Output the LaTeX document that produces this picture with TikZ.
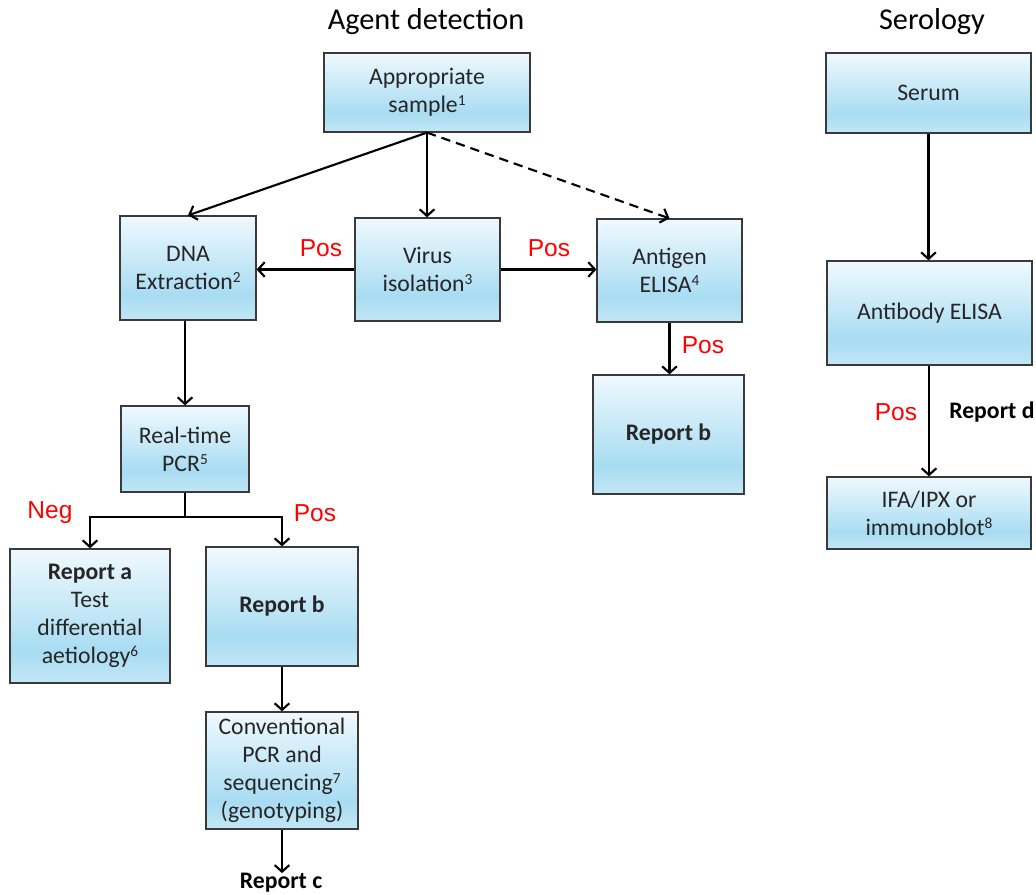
\documentclass[tikz,border=0pt]{standalone}
\usepackage{fontspec}
\setmainfont{Carlito}
\newfontfamily\arialf{Liberation Sans}
\usetikzlibrary{arrows.meta,calc}
\definecolor{gtop}{HTML}{F0F9FE}
\definecolor{gmid}{HTML}{A8DCF2}
\definecolor{gbot}{HTML}{C2E7F6}
\definecolor{boxline}{HTML}{3A3A3A}
\definecolor{txt}{HTML}{262626}
\newcommand\supn[1]{\raisebox{0.6ex}{\fontsize{11.5}{11.5}\selectfont #1}}
\pgfdeclareverticalshading{boxgrad}{100bp}{color(0bp)=(gbot); color(25bp)=(gbot); color(37bp)=(gmid); color(75bp)=(gtop); color(100bp)=(gtop)}
\tikzset{
  box/.style={draw=boxline, line width=0.9pt, shading=boxgrad, rectangle, align=center,
    text=txt, font=\fontsize{17.8}{21}\selectfont, inner sep=1pt},
  arr/.style={line width=1.6pt, -{Straight Barb[length=5pt,width=11pt,line width=1.6pt]}},
  plain/.style={line width=1.6pt},
  lab/.style={text=red, font=\arialf\fontsize{18.4}{21}\selectfont, inner sep=0pt},
  ttl/.style={text=black, font=\fontsize{22.7}{26}\selectfont, inner sep=0pt},
  rep/.style={text=black, font=\bfseries\fontsize{17.8}{21}\selectfont, inner sep=0pt}
}
\begin{document}
\begin{tikzpicture}[x=0.75pt,y=-0.75pt]
\fill[white] (0,0) rectangle (1036,895);
\useasboundingbox (0,0) rectangle (1036,895);

% titles
\node[ttl] (t1) at (426,22) {Agent detection};
\node[ttl] (t2) at (932,22) {Serology};

% boxes
\node[box, minimum width=154.5pt, minimum height=59.25pt] (samp) at (427,92.5) {Appropriate\\sample\supn{1}};
\node[box, minimum width=102pt, minimum height=78pt] (dna) at (188,268) {DNA\\Extraction\supn{2}};
\node[box, minimum width=108.75pt, minimum height=77.25pt] (vir) at (427.5,269.5) {Virus\\isolation\supn{3}};
\node[box, minimum width=108.75pt, minimum height=77.25pt] (ant) at (669.5,270.5) {Antigen\\ELISA\supn{4}};
\node[box, minimum width=113.25pt, minimum height=89.25pt] (repb1) at (668.5,434.5) {\textbf{Report b}};
\node[box, minimum width=96pt, minimum height=64.5pt] (pcr) at (185,449) {Real-time\\PCR\supn{5}};
\node[box, minimum width=120pt, minimum height=100.5pt] (repa) at (90,616) {\textbf{Report a}\\Test\\differential\\aetiology\supn{6}};
\node[box, minimum width=114pt, minimum height=89.25pt] (repb2) at (282,606.5) {\textbf{Report b}};
\node[box, minimum width=114pt, minimum height=87.75pt] (conv) at (282,770.5) {Conventional\\PCR and\\sequencing\supn{7}\\(genotyping)};
\node[rep] (repc) at (281,883) {Report c};

\node[box, minimum width=153.75pt, minimum height=60pt] (serum) at (928.5,93) {Serum};
\node[box, minimum width=153.75pt, minimum height=78pt] (abe) at (929.5,313) {Antibody ELISA};
\node[box, minimum width=153pt, minimum height=54pt] (ifa) at (929,513) {IFA/IPX or\\immunoblot\supn{8}};

% connectors
\draw[arr] (samp.south) -- (dna.north);
\draw[arr] (samp.south) -- (samp.south |- vir.north);
\draw[arr, dashed, dash pattern=on 7pt off 4.5pt] (samp.south) -- (ant.north);
\draw[arr] (vir.west) -- (vir.west -| dna.east);
\draw[arr] (vir.east) -- (vir.east -| ant.west);
\draw[arr] (dna.south -| pcr.north) -- (pcr.north);
\draw[arr] (ant.south) -- (ant.south |- repb1.north);
\coordinate (br) at (185,517);
\draw[plain] (pcr.south) -- (br);
\draw[arr] (br) -| (repa.north);
\draw[arr] (br) -| (repb2.north);
\draw[arr] (repb2.south) -- (conv.north);
\draw[arr] (conv.south) -- (conv.south |- repc.north);
\draw[arr] (serum.south) -- (serum.south |- abe.north);
\draw[arr] (abe.south -| ifa.north) -- (ifa.north);

% labels
\node[lab] (l1) at (321,248) {Pos};
\node[lab] (l2) at (549,248) {Pos};
\node[lab] (l3) at (703,345) {Pos};
\node[lab] (l4) at (50,513) {Neg};
\node[lab] (l5) at (315,513) {Pos};
\node[lab] (l6) at (896,412) {Pos};
\node[rep, anchor=west] (repd) at (949,412) {Report d};
\end{tikzpicture}
\end{document}
